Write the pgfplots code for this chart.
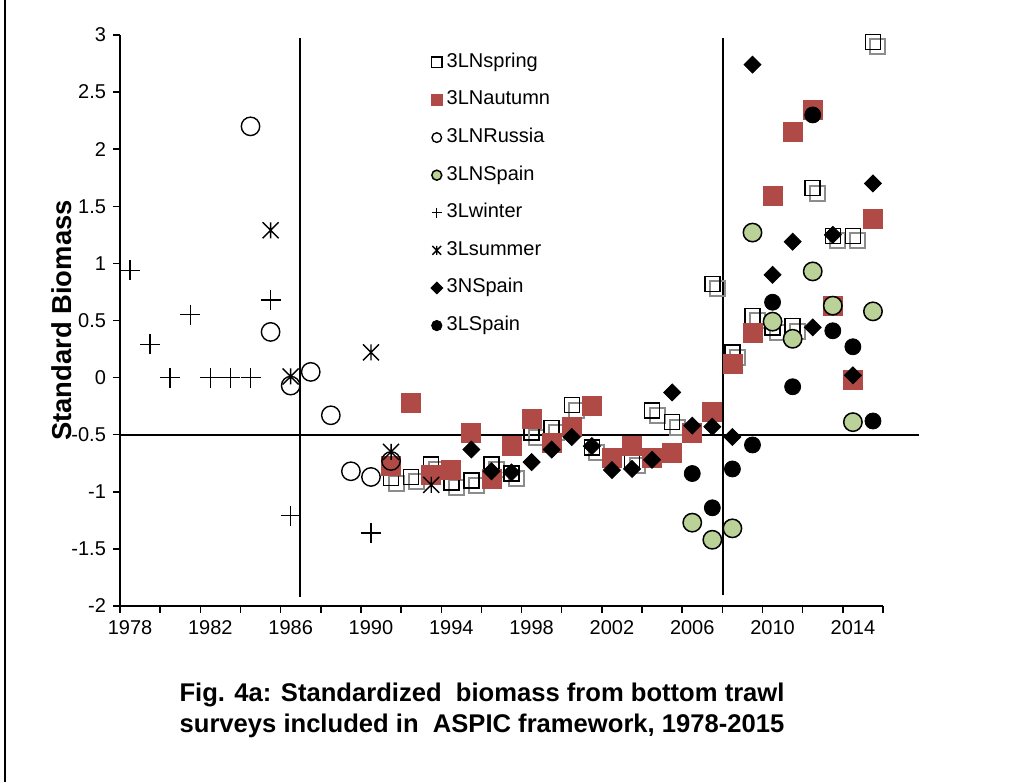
\documentclass[border=0pt]{standalone}
\usepackage{fontspec}
\setmainfont{Liberation Sans}
\usepackage{pgfplots}
\pgfplotsset{compat=1.18}
\definecolor{autred}{RGB}{176,74,70}
\definecolor{spgreen}{RGB}{186,209,152}
% Excel style star: x with a vertical bar
\pgfdeclareplotmark{xstar}{%
  \pgfpathmoveto{\pgfqpoint{-\pgfplotmarksize}{-\pgfplotmarksize}}%
  \pgfpathlineto{\pgfqpoint{\pgfplotmarksize}{\pgfplotmarksize}}%
  \pgfpathmoveto{\pgfqpoint{-\pgfplotmarksize}{\pgfplotmarksize}}%
  \pgfpathlineto{\pgfqpoint{\pgfplotmarksize}{-\pgfplotmarksize}}%
  \pgfpathmoveto{\pgfqpoint{0pt}{\pgfplotmarksize}}%
  \pgfpathlineto{\pgfqpoint{0pt}{-\pgfplotmarksize}}%
  \pgfusepathqstroke}
\pgfplotsset{
  leg/.style={legend image code/.code={\draw[##1, mark size=#1] plot coordinates {(0pt,0pt)};}},
}

\begin{document}
\begin{tikzpicture}
\path[use as bounding box] (-60pt,-88pt) rectangle (455.5pt,303pt);
\draw[line width=0.75pt] (-57.5pt,-88pt) -- (-57.5pt,303pt);

\begin{axis}[
  scale only axis, width=381.5pt, height=285.5pt,
  xmin=1977.5, xmax=2015.5, ymin=-2, ymax=3,
  axis lines=left, axis line style={-, line width=0.75pt},
  tick align=outside, major tick length=3.5pt, minor tick length=3.5pt,
  tick style={line width=0.75pt, black},
  xtick={1978,1982,...,2014},
  minor xtick={1977.5,1979.5,...,2015.5},
  every major x tick/.append style={draw=none},
  ytick={-2,-1.5,...,3},
  /pgf/number format/1000 sep={},
  /pgf/number format/assume math mode=true,
  tick label style={font=\fontsize{10}{12}\selectfont},
  yticklabel style={/pgf/number format/fixed},
  ylabel={Standard Biomass},
  ylabel style={font=\bfseries\fontsize{13.7}{15}\selectfont,
    at={(axis description cs:-0.076,0.5)}, anchor=center},
  clip=false,
  legend style={at={(axis description cs:0.399,0.979)}, anchor=north west,
    draw=none, fill=none, font=\fontsize{10}{12}\selectfont,
    row sep=7.8pt, column sep=1pt,
    nodes={inner sep=1pt, text height=7pt, text depth=2pt}},
  legend cell align=left,
]
% 3LNspring shadow
\addplot[only marks, mark=square, mark size=3.75pt, line width=1pt, black!45,
  mark options={xshift=2.5pt, yshift=-2.5pt}, forget plot] table {
1991 -0.88
1992 -0.87
1993 -0.76
1994 -0.92
1995 -0.90
1996 -0.76
1997 -0.84
1998 -0.48
1999 -0.44
2000 -0.24
2001 -0.61
2003 -0.73
2004 -0.29
2005 -0.39
2007 0.82
2008 0.22
2009 0.54
2010 0.44
2011 0.45
2012 1.66
2013 1.24
2014 1.24
2015 2.94
};
% 3LNspring
\addplot[only marks, mark=square, mark size=3.75pt, line width=0.75pt, black, leg=2.6pt] table {
1991 -0.88
1992 -0.87
1993 -0.76
1994 -0.92
1995 -0.90
1996 -0.76
1997 -0.84
1998 -0.48
1999 -0.44
2000 -0.24
2001 -0.61
2003 -0.73
2004 -0.29
2005 -0.39
2007 0.82
2008 0.22
2009 0.54
2010 0.44
2011 0.45
2012 1.66
2013 1.24
2014 1.24
2015 2.94
};
\addlegendentry{3LNspring}
% 3LNautumn
\addplot[only marks, mark=square*, mark size=4.75pt, autred, mark options={draw=autred, fill=autred}, leg=2.7pt] table {
1991 -0.77
1992 -0.22
1993 -0.85
1994 -0.81
1995 -0.48
1996 -0.89
1997 -0.60
1998 -0.36
1999 -0.57
2000 -0.43
2001 -0.25
2002 -0.70
2003 -0.60
2004 -0.70
2005 -0.66
2006 -0.48
2007 -0.30
2008 0.12
2009 0.39
2010 1.59
2011 2.15
2012 2.34
2013 0.63
2014 -0.02
2015 1.39
};
\addlegendentry{3LNautumn}
% 3LNRussia
\addplot[only marks, mark=o, mark size=4.6pt, line width=0.7pt, black, leg=2.4pt] table {
1984 2.20
1985 0.40
1986 -0.07
1987 0.05
1988 -0.33
1989 -0.82
1990 -0.87
1991 -0.73
};
\addlegendentry{3LNRussia}
% 3LNSpain
\addplot[only marks, mark=*, mark size=4.6pt, line width=0.75pt, black,
  mark options={fill=spgreen, draw=black}, leg=2.5pt] table {
2006 -1.27
2007 -1.42
2008 -1.32
2009 1.27
2010 0.49
2011 0.34
2012 0.93
2013 0.63
2014 -0.39
2015 0.58
};
\addlegendentry{3LNSpain}
% 3Lwinter
\addplot[only marks, mark=+, mark size=5pt, line width=0.7pt, black, leg=2.6pt] table {
1978 0.94
1979 0.29
1980 0
1981 0.55
1982 0
1983 0
1984 0
1985 0.68
1986 -1.21
1990 -1.36
};
\addlegendentry{3Lwinter}
% 3Lsummer
\addplot[only marks, mark=xstar, mark size=4pt, line width=0.7pt, black, leg=2.2pt] table {
1985 1.29
1986 0.01
1990 0.22
1991 -0.65
1993 -0.94
};
\addlegendentry{3Lsummer}
% 3NSpain
\addplot[only marks, mark=square*, mark size=3pt, black,
  mark options={rotate=45}, leg=2.1pt] table {
1995 -0.63
1996 -0.82
1997 -0.83
1998 -0.74
1999 -0.63
2000 -0.52
2001 -0.60
2002 -0.81
2003 -0.80
2004 -0.72
2005 -0.13
2006 -0.42
2007 -0.43
2008 -0.52
2009 2.74
2010 0.90
2011 1.19
2012 0.44
2013 1.25
2014 0.02
2015 1.70
};
\addlegendentry{3NSpain}
% 3LSpain
\addplot[only marks, mark=*, mark size=4pt, black, leg=2.6pt] table {
2006 -0.84
2007 -1.14
2008 -0.80
2009 -0.59
2010 0.66
2011 -0.08
2012 2.30
2013 0.41
2014 0.27
2015 -0.38
};
\addlegendentry{3LSpain}
% reference lines
\addplot[black, line width=1pt, no marks, forget plot] coordinates {(1986.46,2.97) (1986.46,-1.92)};
\addplot[black, line width=1pt, no marks, forget plot] coordinates {(2007.55,2.97) (2007.55,-1.90)};
\addplot[black, line width=1pt, no marks, forget plot] coordinates {(1977.5,-0.5) (2017.29,-0.5)};
\end{axis}

\node[align=center, font=\bfseries\fontsize{12.8}{15.5}\selectfont] at (181pt,-52pt)
  {Fig. 4a: Standardized\ \ biomass from bottom trawl\\surveys included in\ \ ASPIC framework, 1978-2015};
\end{tikzpicture}
\end{document}
